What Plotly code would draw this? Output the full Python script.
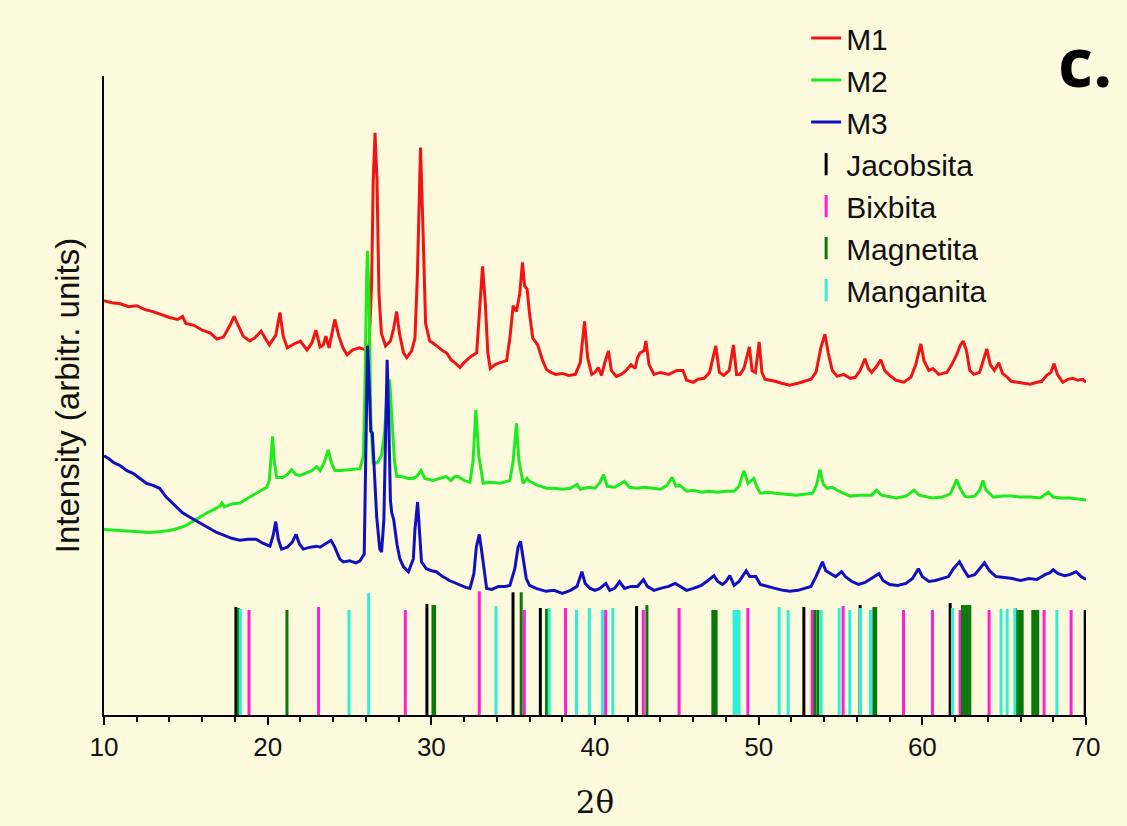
import plotly.graph_objects as go

# ---------------- data (y in arbitrary intensity units) ----------------
m1_x = [10.0, 10.5, 11.0, 11.5, 12.0, 12.5, 13.0, 13.5, 14.0, 14.5, 14.8, 15.0, 15.5, 16.0, 16.5, 16.9, 17.3, 17.7,
        17.95, 18.2, 18.5, 18.9, 19.2, 19.6, 19.9, 20.1, 20.5, 20.75, 20.95, 21.2, 21.6, 22.0, 22.4, 22.7, 22.95,
        23.2, 23.4, 23.56, 23.75, 23.95, 24.1, 24.35, 24.6, 24.85, 25.2, 25.6, 26.0, 26.2, 26.35, 26.45, 26.56,
        26.68, 26.8, 26.95, 27.2, 27.5, 27.7, 27.88, 28.05, 28.3, 28.5, 28.8, 29.0, 29.15, 29.34, 29.5, 29.65,
        29.9, 30.1, 30.4, 30.7, 30.93, 31.2, 31.5, 31.75, 32.0, 32.4, 32.77, 32.95, 33.13, 33.3, 33.45, 33.6,
        33.9, 34.2, 34.6, 34.8, 35.0, 35.2, 35.4, 35.57, 35.7, 35.85, 36.0, 36.2, 36.5, 36.8, 37.04, 37.3, 37.6,
        38.0, 38.4, 38.8, 39.1, 39.36, 39.55, 39.8, 40.0, 40.2, 40.4, 40.6, 40.82, 41.0, 41.3, 41.6, 41.9, 42.2,
        42.45, 42.6, 42.75, 43.0, 43.11, 43.3, 43.6, 44.0, 44.5, 45.0, 45.37, 45.6, 46.0, 46.3, 46.67, 47.0,
        47.38, 47.6, 47.87, 48.2, 48.46, 48.65, 48.85, 49.1, 49.43, 49.6, 49.8, 50.03, 50.2, 50.38, 50.7, 51.0,
        51.4, 51.9, 52.4, 52.8, 53.2, 53.5, 53.8, 54.05, 54.25, 54.5, 54.8, 55.2, 55.6, 55.9, 56.2, 56.49, 56.7,
        56.9, 57.2, 57.46, 57.7, 58.0, 58.4, 58.87, 59.3, 59.6, 59.91, 60.1, 60.4, 60.64, 61.0, 61.5, 61.8, 62.1,
        62.3, 62.5, 62.7, 62.9, 63.14, 63.5, 63.75, 63.94, 64.15, 64.4, 64.67, 64.9, 65.2, 65.43, 65.8, 66.2,
        66.6, 67.0, 67.3, 67.6, 67.85, 68.05, 68.25, 68.58, 68.9, 69.2, 69.5, 69.8, 70.0]
m1_y = [422, 420, 419, 416, 417, 413, 411, 408, 405, 403, 406, 399, 397, 392, 389, 383, 385, 397,
        406, 397, 386, 381, 384, 391, 383, 377, 387, 410, 386, 374, 378, 381, 372, 379, 392,
        375, 377, 386, 374, 389, 403, 386, 374, 367, 372, 374, 372, 377, 439, 544, 593,
        544, 429, 389, 376, 381, 394, 411, 389, 369, 364, 371, 384, 449, 578, 489, 399,
        381, 379, 375, 371, 369, 362, 358, 354, 359, 365, 369, 419, 457, 419, 369, 353,
        357, 359, 361, 384, 417, 411, 429, 461, 437, 434, 409, 384, 377, 361, 352, 349, 347,
        348, 346, 347, 359, 401, 364, 347, 349, 354, 346, 359, 371, 351, 345, 347, 351, 357,
        353, 364, 369, 371, 381, 357, 347, 349, 347, 351, 351, 341, 339, 342, 343, 349,
        376, 349, 346, 351, 377, 347, 347, 353, 375, 351, 349, 380, 349, 342, 341, 340,
        338, 336, 338, 340, 342, 349, 374, 388, 369, 351, 345, 347, 343, 344, 351, 363, 353,
        349, 355, 362, 351, 346, 341, 339, 344, 357, 378, 361, 351, 353, 347, 349, 357, 367,
        376, 381, 371, 351, 347, 349, 364, 373, 357, 351, 359, 348, 344, 340, 339, 338,
        337, 339, 340, 346, 349, 358, 347, 339, 342, 343, 341, 342, 339]

m2_x = [10.0, 11.0, 12.0, 12.8, 13.5, 14.0, 14.5, 15.0, 15.5, 15.86, 16.3, 16.8, 17.1, 17.2, 17.35, 17.8, 18.3,
        18.8, 19.3, 19.7, 19.94, 20.1, 20.2, 20.3, 20.4, 20.55, 20.9, 21.2, 21.46, 21.7, 21.97, 22.4, 22.7,
        22.99, 23.2, 23.45, 23.7, 23.9, 24.1, 24.5, 25.0, 25.4, 25.64, 25.85, 25.95, 26.05, 26.1, 26.2, 26.3,
        26.45, 26.7, 26.95, 27.15, 27.3, 27.45, 27.6, 27.75, 27.88, 28.2, 28.6, 28.88, 29.1, 29.37, 29.6, 30.1,
        30.5, 30.9, 31.2, 31.45, 31.64, 32.0, 32.36, 32.55, 32.72, 32.9, 33.17, 33.6, 34.2, 34.8, 35.0, 35.2,
        35.35, 35.61, 35.85, 36.0, 36.5, 37.04, 37.5, 38.0, 38.5, 38.9, 39.1, 39.6, 40.0, 40.3, 40.52, 40.75,
        41.2, 41.5, 41.8, 42.1, 42.6, 43.0, 43.5, 44.0, 44.4, 44.7, 44.95, 45.2, 45.6, 46.0, 46.5, 47.0, 47.5,
        48.0, 48.5, 48.8, 49.1, 49.35, 49.7, 49.9, 50.1, 50.6, 51.0, 51.6, 52.3, 52.8, 53.3, 53.55, 53.74,
        53.95, 54.2, 54.5, 54.9, 55.6, 56.3, 56.9, 57.2, 57.5, 58.0, 58.4, 59.0, 59.5, 59.8, 60.6, 61.2, 61.7,
        61.95, 62.1, 62.3, 62.6, 62.8, 63.2, 63.5, 63.7, 63.9, 64.34, 64.9, 65.4, 66.0, 66.6, 67.2, 67.7, 68.0,
        68.5, 69.0, 69.5, 70.0]
m2_y = [189, 188, 187, 186, 187, 188, 190, 193, 198, 202, 206, 210, 213, 216, 212, 215, 216,
        221, 226, 230, 232, 239, 264, 284, 259, 242, 242, 245, 250, 245, 244, 247, 249,
        253, 249, 257, 270, 257, 249, 249, 250, 251, 251, 264, 339, 449, 473, 419, 299,
        257, 257, 264, 289, 329, 342, 299, 259, 243, 243, 241, 241, 243, 249, 241, 239,
        241, 243, 239, 243, 243, 239, 237, 259, 311, 264, 236, 237, 236, 239, 259, 297,
        259, 236, 241, 238, 234, 231, 231, 230, 231, 235, 230, 232, 231, 237, 245, 233,
        232, 235, 238, 232, 231, 232, 231, 230, 234, 242, 233, 234, 228, 229, 227, 228, 227,
        228, 228, 233, 249, 236, 241, 232, 226, 227, 226, 225, 224, 225, 226, 235, 250,
        235, 231, 232, 228, 223, 224, 224, 229, 224, 222, 221, 223, 229, 224, 221, 222, 225,
        234, 240, 231, 223, 222, 223, 229, 239, 229, 222, 223, 223, 222, 222, 221, 227, 222,
        221, 221, 220, 219]

m3_x = [10.0, 10.3, 10.6, 11.0, 11.4, 11.8, 12.2, 12.6, 13.0, 13.4, 13.8, 14.2, 14.5, 14.8, 15.2, 15.5, 15.86,
        16.2, 16.5, 16.88, 17.2, 17.5, 17.8, 18.3, 18.8, 19.3, 19.7, 20.14, 20.35, 20.49, 20.65, 20.85, 21.2,
        21.5, 21.73, 21.95, 22.18, 22.6, 23.0, 23.2, 23.5, 23.87, 24.1, 24.4, 24.62, 25.0, 25.4, 25.64, 25.9,
        26.0, 26.1, 26.2, 26.3, 26.4, 26.55, 26.66, 26.85, 26.96, 27.1, 27.2, 27.3, 27.4, 27.5, 27.58, 27.7,
        27.9, 28.08, 28.3, 28.6, 28.9, 29.0, 29.16, 29.3, 29.4, 29.7, 30.0, 30.3, 30.7, 31.1, 31.5, 31.75, 32.1,
        32.36, 32.6, 32.75, 32.93, 33.1, 33.38, 33.7, 34.1, 34.5, 34.8, 35.1, 35.3, 35.45, 35.6, 35.8, 36.0,
        36.4, 37.0, 37.5, 38.0, 38.5, 38.9, 39.05, 39.2, 39.4, 39.7, 40.0, 40.3, 40.66, 40.9, 41.2, 41.5, 41.8,
        42.2, 42.6, 42.96, 43.2, 43.6, 44.0, 44.5, 44.9, 45.2, 45.6, 46.0, 46.5, 46.9, 47.27, 47.5, 47.8, 48.0,
        48.24, 48.5, 48.8, 49.0, 49.24, 49.45, 49.83, 50.1, 50.5, 51.0, 51.5, 51.9, 52.4, 52.8, 53.2, 53.5,
        53.75, 53.9, 54.1, 54.4, 54.7, 55.07, 55.3, 55.7, 56.1, 56.5, 56.9, 57.35, 57.6, 58.0, 58.5, 59.0,
        59.4, 59.76, 60.0, 60.4, 60.8, 61.2, 61.6, 61.9, 62.27, 62.5, 62.8, 63.2, 63.5, 63.8, 64.1, 64.5, 65.0,
        65.5, 66.0, 66.5, 67.0, 67.5, 67.8, 68.0, 68.3, 68.7, 69.0, 69.4, 69.7, 70.0]
m3_y = [264, 261, 257, 254, 249, 246, 241, 236, 234, 231, 222, 216, 211, 206, 202, 199, 196,
        192, 189, 186, 184, 182, 180, 178, 179, 179, 175, 172, 184, 197, 179, 169, 171,
        176, 184, 174, 169, 171, 172, 171, 174, 178, 171, 159, 156, 157, 155, 157, 164,
        269, 376, 339, 289, 287, 239, 202, 169, 166, 199, 299, 362, 299, 219, 206, 199,
        174, 159, 151, 146, 159, 189, 217, 184, 156, 149, 147, 146, 141, 137, 134, 132, 130,
        129, 144, 171, 184, 164, 129, 128, 131, 131, 132, 149, 171, 177, 159, 139, 132,
        129, 126, 127, 124, 127, 131, 139, 146, 134, 129, 127, 129, 134, 127, 129, 136, 129,
        131, 131, 138, 131, 127, 129, 131, 134, 131, 127, 129, 132, 137, 142, 136, 133, 136,
        142, 132, 136, 141, 147, 141, 141, 133, 131, 129, 127, 126, 127, 129, 131, 141,
        151, 156, 147, 144, 141, 146, 141, 136, 133, 135, 139, 144, 137, 133, 132, 134,
        139, 149, 141, 136, 137, 139, 141, 149, 156, 149, 141, 143, 149, 155, 147, 141, 140,
        139, 137, 139, 138, 143, 145, 148, 144, 142, 143, 146, 141, 138]

# reference patterns: peak positions (2-theta) and stick heights (arbitrary units)
jac_x = [18.06, 29.73, 34.99, 36.66, 42.54, 52.76, 56.2, 61.7, 69.95]
jac_h = [110, 113, 125, 109, 111, 110, 112, 114, 107]

bix_x = [18.86, 23.11, 28.41, 32.93, 35.68, 38.2, 40.65, 42.95, 45.14, 49.34, 53.27, 55.16, 58.85, 60.62,
         62.31, 64.08, 65.7, 67.44, 69.09]
bix_h = [107, 110, 107, 126, 107, 109, 107, 107, 109, 109, 107, 111, 107, 107, 107, 107, 109, 107, 107]

mag_x = [18.2, 21.18, 30.1, 30.2, 35.49, 37.04, 43.17, 47.2, 47.3, 47.4, 53.43, 53.62, 57.04, 57.15,
         62.45, 62.6, 62.75, 62.9, 65.8, 65.95, 66.1, 66.75, 66.9, 67.05]
mag_h = [109, 107, 112, 112, 125, 108, 112, 107, 107, 107, 107, 107, 110, 110,
         112, 112, 112, 112, 107, 107, 107, 107, 107, 107]

man_x = [18.33, 24.97, 26.17, 33.95, 37.2, 38.87, 39.65, 40.46, 41.09, 48.5, 48.65, 48.8, 51.25, 51.8,
         53.82, 54.92, 55.57, 56.22, 56.83, 61.84, 64.81, 65.18, 65.65, 68.22]
man_h = [108, 107, 124, 111, 109, 107, 109, 107, 109, 107, 107, 107, 110, 107,
         107, 109, 107, 109, 107, 109, 108, 108, 109, 107]

curve_names = ["M1", "M2", "M3"]
curve_colors = ["#F01414", "#1EEB1E", "#1010C0"]
phase_names = ["Jacobsita", "Bixbita", "Magnetita", "Manganita"]
phase_colors = ["#000000", "#FF1ED2", "#0A780A", "#2DF0D6"]

BG = "#FDF9DC"
FONT = "Liberation Sans, Arial, sans-serif"

fig = go.Figure()

# stick patterns (drawn first, below the curves)
for xs, hs, col in [(jac_x, jac_h, phase_colors[0]), (bix_x, bix_h, phase_colors[1]),
                    (mag_x, mag_h, phase_colors[2]), (man_x, man_h, phase_colors[3])]:
    sx, sy = [], []
    for x, h in zip(xs, hs):
        sx += [x, x, None]
        sy += [0, h, None]
    fig.add_trace(go.Scatter(x=sx, y=sy, mode="lines", line=dict(color=col, width=3),
                             showlegend=False, hoverinfo="skip"))

# diffraction curves
for name, xs, ys, col in [(curve_names[0], m1_x, m1_y, curve_colors[0]),
                          (curve_names[1], m2_x, m2_y, curve_colors[1]),
                          (curve_names[2], m3_x, m3_y, curve_colors[2])]:
    fig.add_trace(go.Scatter(x=xs, y=ys, mode="lines", name=name,
                             line=dict(color=col, width=3)))

# legend entries for the stick patterns
for name, col in zip(phase_names, phase_colors):
    fig.add_trace(go.Scatter(x=[None], y=[None], mode="markers", name=name,
                             marker=dict(symbol="line-ns", size=26, color=col,
                                         line=dict(color=col, width=3))))

fig.update_layout(
    width=1127, height=826,
    paper_bgcolor=BG, plot_bgcolor=BG,
    margin=dict(l=104, r=41, t=68, b=107),
    font=dict(family=FONT, color="#111111"),
    showlegend=True,
    legend=dict(x=0.715, y=1.1, xanchor="left", yanchor="top",
                bgcolor="rgba(0,0,0,0)", font=dict(size=30, family=FONT),
                itemwidth=30),
)

fig.update_xaxes(
    range=[10, 70], showgrid=False, zeroline=False,
    showline=True, linecolor="black", linewidth=2,
    ticks="outside", ticklen=8, tickwidth=2, tickcolor="black",
    tickvals=[10, 20, 30, 40, 50, 60, 70],
    minor=dict(ticks="outside", ticklen=5, tickwidth=1.5, tickcolor="black", dtick=2, tick0=10),
    tickfont=dict(size=26, family=FONT, color="#111111"),
    title=dict(text="2θ", font=dict(size=31, family="DejaVu Serif, serif", color="#111111"), standoff=30),
)
fig.update_yaxes(
    range=[0, 651], showgrid=False, zeroline=False,
    showline=True, linecolor="black", linewidth=2,
    showticklabels=False, ticks="",
    title=dict(text="Intensity (arbitr. units)", font=dict(size=33, family=FONT, color="#111111"),
               standoff=12),
)

fig.add_annotation(text="<b>c.</b>", xref="paper", yref="paper", x=0.999, y=1.025,
                   xanchor="center", yanchor="middle", showarrow=False,
                   font=dict(size=68, family="Open Sans, sans-serif", color="#000000"))

fig.write_html("out.html", config={"displayModeBar": False},
               post_script="document.body.style.margin='0';document.body.style.background='#FDF9DC';")
